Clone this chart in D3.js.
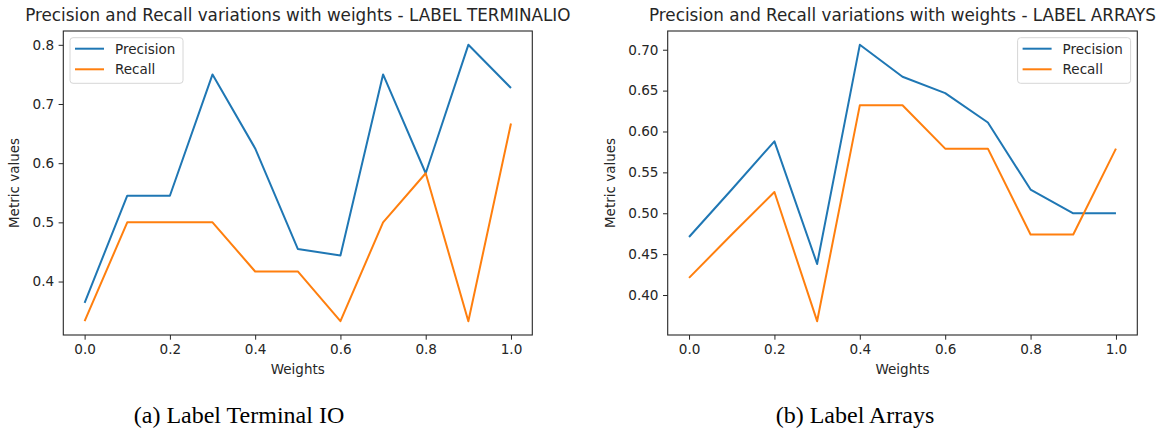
<!doctype html>
<html>
<head>
<meta charset="utf-8">
<style>
  body { margin: 0; background: #fff; }
  svg text { font-family: "DejaVu Sans", sans-serif; fill: #262626; }
  .caption { font-family: "Liberation Serif", "Times New Roman", serif; fill: #000; }
</style>
</head>
<body>
<svg id="fig" width="1164" height="432"></svg>

<script src="https://d3js.org/d3.v7.min.js"></script>
<script>
// weights on the x axis (same for both panels)
const weights = [0.0, 0.1, 0.2, 0.3, 0.4, 0.5, 0.6, 0.7, 0.8, 0.9, 1.0];

// (a) label TERMINALIO
const precisionTerminal = [0.364, 0.545, 0.545, 0.750, 0.625, 0.455, 0.444, 0.750, 0.583, 0.800, 0.727];
const recallTerminal    = [0.333, 0.500, 0.500, 0.500, 0.417, 0.417, 0.333, 0.500, 0.583, 0.333, 0.667];

// (b) label ARRAYS
const precisionArrays = [0.471, 0.529, 0.588, 0.438, 0.706, 0.667, 0.647, 0.611, 0.529, 0.500, 0.500];
const recallArrays    = [0.421, 0.474, 0.526, 0.368, 0.632, 0.632, 0.579, 0.579, 0.474, 0.474, 0.579];

// ticks
const xTicks = [0.0, 0.2, 0.4, 0.6, 0.8, 1.0];
const yTicksTerminal = [0.4, 0.5, 0.6, 0.7, 0.8];
const yTicksArrays = [0.40, 0.45, 0.50, 0.55, 0.60, 0.65, 0.70];

const seriesNames = ["Precision", "Recall"];
const colors = ["#1f77b4", "#ff7f0e"];

const titles = [
	"Precision and Recall variations with weights - LABEL TERMINALIO",
	"Precision and Recall variations with weights - LABEL ARRAYS"
];
const captions = ["(a) Label Terminal IO", "(b) Label Arrays"];

let svg = d3.select("#fig");

function drawPanel(opt) {
	let g = svg.append("g");
	let x0 = opt.left, x1 = opt.right, y0 = 31, y1 = 335;

	// matplotlib-like 5% margins
	let scaleX = d3.scaleLinear().domain([-0.05, 1.05]).range([x0, x1]);
	let ext = d3.extent(opt.series[0].concat(opt.series[1]));
	let pad = (ext[1] - ext[0]) * 0.05;
	let scaleY = d3.scaleLinear().domain([ext[0] - pad, ext[1] + pad]).range([y1, y0]);

	// x axis
	let xAxis = d3.axisBottom(scaleX).tickValues(xTicks)
		.tickFormat(d3.format(".1f")).tickSize(4.7).tickPadding(4.5).tickSizeOuter(0);
	let gx = g.append("g").attr("transform", "translate(0," + y1 + ")").call(xAxis);
	gx.select(".domain").remove();

	// y axis
	let yAxis = d3.axisLeft(scaleY).tickValues(opt.yTicks)
		.tickFormat(d3.format(opt.yFormat)).tickSize(4.7).tickPadding(4.5).tickSizeOuter(0);
	let gy = g.append("g").attr("transform", "translate(" + x0 + ",0)").call(yAxis);
	gy.select(".domain").remove();

	g.selectAll(".tick line").attr("stroke", "#262626").attr("stroke-width", 1);
	g.selectAll(".tick text").style("font-size", "13.6px").attr("fill", "#262626")
		.style("font-family", "DejaVu Sans");

	// lines
	let line = d3.line().x((d, i) => scaleX(weights[i])).y(d => scaleY(d));
	opt.series.forEach((s, k) => {
		g.append("path")
			.attr("d", line(s))
			.attr("fill", "none")
			.attr("stroke", colors[k])
			.attr("stroke-width", 2)
			.attr("stroke-linejoin", "round");
	});

	// frame
	g.append("rect")
		.attr("x", x0).attr("y", y0)
		.attr("width", x1 - x0).attr("height", y1 - y0)
		.attr("fill", "none").attr("stroke", "#262626").attr("stroke-width", 1.1);

	// title
	g.append("text")
		.attr("x", (x0 + x1) / 2).attr("y", 20.5)
		.attr("text-anchor", "middle")
		.style("font-size", "16.8px")
		.text(opt.title);

	// axis labels
	g.append("text")
		.attr("x", (x0 + x1) / 2).attr("y", 374)
		.attr("text-anchor", "middle")
		.style("font-size", "13.5px")
		.text("Weights");

	g.append("text")
		.attr("transform", "translate(" + opt.ylabelX + "," + (y0 + y1) / 2 + ") rotate(-90)")
		.attr("text-anchor", "middle")
		.attr("dy", "0.36em")
		.style("font-size", "13.5px")
		.text("Metric values");

	// legend
	let lg = g.append("g").attr("transform", "translate(" + opt.legendX + ",37.7)");
	lg.append("rect")
		.attr("width", 113).attr("height", 45.6)
		.attr("rx", 3).attr("ry", 3)
		.attr("fill", "#fff").attr("fill-opacity", 0.8)
		.attr("stroke", "#d6d6d6").attr("stroke-width", 1);
	seriesNames.forEach((name, k) => {
		let yy = 11 + k * 20.6;
		lg.append("line")
			.attr("x1", 5).attr("x2", 34)
			.attr("y1", yy).attr("y2", yy)
			.attr("stroke", colors[k]).attr("stroke-width", 2);
		lg.append("text")
			.attr("x", 45).attr("y", yy)
			.attr("dy", "0.36em")
			.style("font-size", "13.5px")
			.text(name);
	});

	// caption
	svg.append("text")
		.attr("class", "caption")
		.attr("x", opt.captionX).attr("y", 422.5)
		.attr("text-anchor", "middle")
		.style("font-size", "24px")
		.text(opt.caption);
}

drawPanel({
	left: 63.3, right: 532.3,
	series: [precisionTerminal, recallTerminal],
	yTicks: yTicksTerminal, yFormat: ".1f",
	title: titles[0], caption: captions[0],
	ylabelX: 14.5, legendX: 70, captionX: 239
});

drawPanel({
	left: 667.7, right: 1137.3,
	series: [precisionArrays, recallArrays],
	yTicks: yTicksArrays, yFormat: ".2f",
	title: titles[1], caption: captions[1],
	ylabelX: 610.5, legendX: 1017.6, captionX: 855
});
</script>
</body>
</html>
